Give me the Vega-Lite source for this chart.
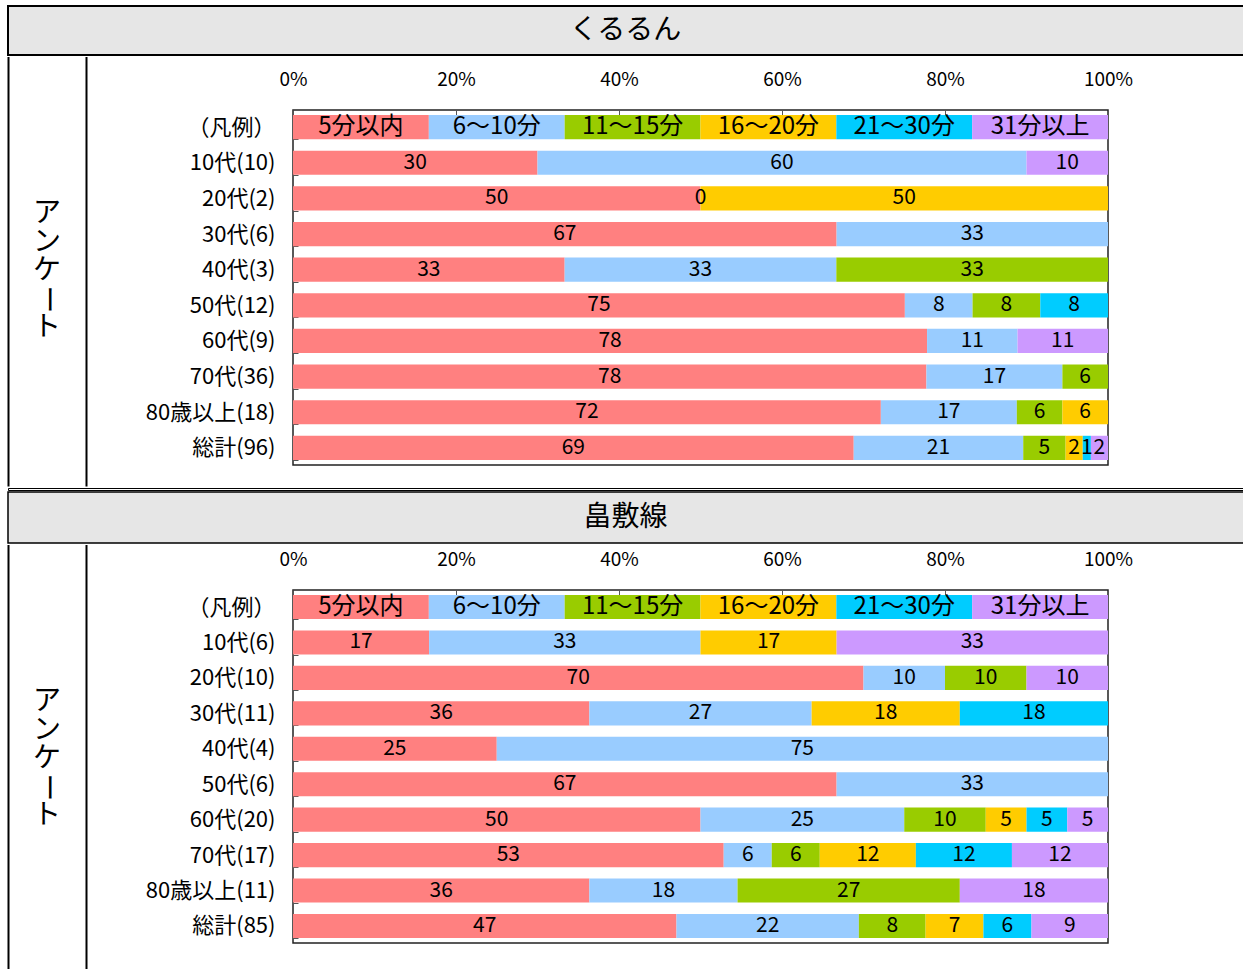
{
  "$schema": "https://vega.github.io/schema/vega-lite/v6.json",
  "padding": {"left": 6, "top": 5, "right": 0, "bottom": 0},
  "background": "white",
  "spacing": 0,
  "config": {
    "font": "Noto Sans CJK JP",
    "view": {"stroke": null},
    "concat": {"spacing": 0},
    "text": {"font": "Noto Sans CJK JP", "color": "black"},
    "axis": {"labelFont": "Noto Sans CJK JP", "labelColor": "black"}
  },
  "datasets": {
    "kururun": [
      {"row": "（凡例）", "cat": "5分以内", "k": 1, "v": 1},
      {"row": "（凡例）", "cat": "6～10分", "k": 2, "v": 1},
      {"row": "（凡例）", "cat": "11～15分", "k": 3, "v": 1},
      {"row": "（凡例）", "cat": "16～20分", "k": 4, "v": 1},
      {"row": "（凡例）", "cat": "21～30分", "k": 5, "v": 1},
      {"row": "（凡例）", "cat": "31分以上", "k": 6, "v": 1},
      {"row": "10代(10)", "cat": "5分以内", "k": 1, "v": 30},
      {"row": "10代(10)", "cat": "6～10分", "k": 2, "v": 60},
      {"row": "10代(10)", "cat": "31分以上", "k": 6, "v": 10},
      {"row": "20代(2)", "cat": "5分以内", "k": 1, "v": 50},
      {"row": "20代(2)", "cat": "6～10分", "k": 2, "v": 0},
      {"row": "20代(2)", "cat": "16～20分", "k": 4, "v": 50},
      {"row": "30代(6)", "cat": "5分以内", "k": 1, "v": 66.7},
      {"row": "30代(6)", "cat": "6～10分", "k": 2, "v": 33.3},
      {"row": "40代(3)", "cat": "5分以内", "k": 1, "v": 33.3},
      {"row": "40代(3)", "cat": "6～10分", "k": 2, "v": 33.3},
      {"row": "40代(3)", "cat": "11～15分", "k": 3, "v": 33.3},
      {"row": "50代(12)", "cat": "5分以内", "k": 1, "v": 75},
      {"row": "50代(12)", "cat": "6～10分", "k": 2, "v": 8.3},
      {"row": "50代(12)", "cat": "11～15分", "k": 3, "v": 8.3},
      {"row": "50代(12)", "cat": "21～30分", "k": 5, "v": 8.3},
      {"row": "60代(9)", "cat": "5分以内", "k": 1, "v": 77.8},
      {"row": "60代(9)", "cat": "6～10分", "k": 2, "v": 11.1},
      {"row": "60代(9)", "cat": "31分以上", "k": 6, "v": 11.1},
      {"row": "70代(36)", "cat": "5分以内", "k": 1, "v": 77.8},
      {"row": "70代(36)", "cat": "6～10分", "k": 2, "v": 16.7},
      {"row": "70代(36)", "cat": "11～15分", "k": 3, "v": 5.6},
      {"row": "80歳以上(18)", "cat": "5分以内", "k": 1, "v": 72.2},
      {"row": "80歳以上(18)", "cat": "6～10分", "k": 2, "v": 16.7},
      {"row": "80歳以上(18)", "cat": "11～15分", "k": 3, "v": 5.6},
      {"row": "80歳以上(18)", "cat": "16～20分", "k": 4, "v": 5.6},
      {"row": "総計(96)", "cat": "5分以内", "k": 1, "v": 68.8},
      {"row": "総計(96)", "cat": "6～10分", "k": 2, "v": 20.8},
      {"row": "総計(96)", "cat": "11～15分", "k": 3, "v": 5.2},
      {"row": "総計(96)", "cat": "16～20分", "k": 4, "v": 2.1},
      {"row": "総計(96)", "cat": "21～30分", "k": 5, "v": 1.0},
      {"row": "総計(96)", "cat": "31分以上", "k": 6, "v": 2.1}
    ],
    "hatashiki": [
      {"row": "（凡例）", "cat": "5分以内", "k": 1, "v": 1},
      {"row": "（凡例）", "cat": "6～10分", "k": 2, "v": 1},
      {"row": "（凡例）", "cat": "11～15分", "k": 3, "v": 1},
      {"row": "（凡例）", "cat": "16～20分", "k": 4, "v": 1},
      {"row": "（凡例）", "cat": "21～30分", "k": 5, "v": 1},
      {"row": "（凡例）", "cat": "31分以上", "k": 6, "v": 1},
      {"row": "10代(6)", "cat": "5分以内", "k": 1, "v": 16.7},
      {"row": "10代(6)", "cat": "6～10分", "k": 2, "v": 33.3},
      {"row": "10代(6)", "cat": "16～20分", "k": 4, "v": 16.7},
      {"row": "10代(6)", "cat": "31分以上", "k": 6, "v": 33.3},
      {"row": "20代(10)", "cat": "5分以内", "k": 1, "v": 70},
      {"row": "20代(10)", "cat": "6～10分", "k": 2, "v": 10},
      {"row": "20代(10)", "cat": "11～15分", "k": 3, "v": 10},
      {"row": "20代(10)", "cat": "31分以上", "k": 6, "v": 10},
      {"row": "30代(11)", "cat": "5分以内", "k": 1, "v": 36.4},
      {"row": "30代(11)", "cat": "6～10分", "k": 2, "v": 27.3},
      {"row": "30代(11)", "cat": "16～20分", "k": 4, "v": 18.2},
      {"row": "30代(11)", "cat": "21～30分", "k": 5, "v": 18.2},
      {"row": "40代(4)", "cat": "5分以内", "k": 1, "v": 25},
      {"row": "40代(4)", "cat": "6～10分", "k": 2, "v": 75},
      {"row": "50代(6)", "cat": "5分以内", "k": 1, "v": 66.7},
      {"row": "50代(6)", "cat": "6～10分", "k": 2, "v": 33.3},
      {"row": "60代(20)", "cat": "5分以内", "k": 1, "v": 50},
      {"row": "60代(20)", "cat": "6～10分", "k": 2, "v": 25},
      {"row": "60代(20)", "cat": "11～15分", "k": 3, "v": 10},
      {"row": "60代(20)", "cat": "16～20分", "k": 4, "v": 5},
      {"row": "60代(20)", "cat": "21～30分", "k": 5, "v": 5},
      {"row": "60代(20)", "cat": "31分以上", "k": 6, "v": 5},
      {"row": "70代(17)", "cat": "5分以内", "k": 1, "v": 52.9},
      {"row": "70代(17)", "cat": "6～10分", "k": 2, "v": 5.9},
      {"row": "70代(17)", "cat": "11～15分", "k": 3, "v": 5.9},
      {"row": "70代(17)", "cat": "16～20分", "k": 4, "v": 11.8},
      {"row": "70代(17)", "cat": "21～30分", "k": 5, "v": 11.8},
      {"row": "70代(17)", "cat": "31分以上", "k": 6, "v": 11.8},
      {"row": "80歳以上(11)", "cat": "5分以内", "k": 1, "v": 36.4},
      {"row": "80歳以上(11)", "cat": "6～10分", "k": 2, "v": 18.2},
      {"row": "80歳以上(11)", "cat": "11～15分", "k": 3, "v": 27.3},
      {"row": "80歳以上(11)", "cat": "31分以上", "k": 6, "v": 18.2},
      {"row": "総計(85)", "cat": "5分以内", "k": 1, "v": 47.1},
      {"row": "総計(85)", "cat": "6～10分", "k": 2, "v": 22.4},
      {"row": "総計(85)", "cat": "11～15分", "k": 3, "v": 8.2},
      {"row": "総計(85)", "cat": "16～20分", "k": 4, "v": 7.1},
      {"row": "総計(85)", "cat": "21～30分", "k": 5, "v": 5.9},
      {"row": "総計(85)", "cat": "31分以上", "k": 6, "v": 9.4}
    ]
  },
  "vconcat": [
    {
      "width": 1237, "height": 49,
      "view": {"fill": "#e6e6e6", "stroke": "black", "strokeWidth": 2},
      "data": {"values": [{"t": "くるるん"}]},
      "mark": {"type": "text", "fontSize": 28, "align": "center", "baseline": "middle", "dx": -1},
      "encoding": {"text": {"field": "t"}}
    },
    {
      "hconcat": [
        {
          "width": 78, "height": 375,
          "encoding": {
            "x": {"datum": 0.5, "type": "quantitative", "scale": {"domain": [0, 1]},
              "axis": {"orient": "bottom", "title": null, "values": [0, 1], "labels": false, "domain": false, "grid": false, "ticks": true, "tickSize": -427.5, "tickWidth": 2, "tickCap": "square", "tickColor": "black", "minExtent": 0, "maxExtent": 0}}
          },
          "layer": [
            {
              "data": {"values": [{"t": "ア\nン\nケ"}]},
              "mark": {"type": "text", "fontSize": 28, "lineBreak": "\n", "lineHeight": 28.5, "align": "center", "baseline": "middle", "dy": -83.5},
              "encoding": {"text": {"field": "t"}}
            },
            {
              "data": {"values": [{"t": "ー"}]},
              "mark": {"type": "text", "fontSize": 28, "angle": 90, "align": "center", "baseline": "middle", "dx": 2, "dy": 0},
              "encoding": {"text": {"field": "t"}}
            },
            {
              "data": {"values": [{"t": "ト"}]},
              "mark": {"type": "text", "fontSize": 28, "align": "center", "baseline": "middle", "dy": 30.5},
              "encoding": {"text": {"field": "t"}}
            }
          ]
        },
        {
          "width": 815, "height": 355,
          "view": {"stroke": "#222", "strokeWidth": 1.5},
          "data": {"name": "kururun"},
          "encoding": {
            "y": {
              "field": "row", "type": "nominal",
              "sort": ["（凡例）", "10代(10)", "20代(2)", "30代(6)", "40代(3)", "50代(12)", "60代(9)", "70代(36)", "80歳以上(18)", "総計(96)"],
              "scale": {"paddingInner": 0.32, "paddingOuter": 0.14},
              "axis": {"title": null, "domain": false, "tickBand": "extent", "tickSize": -5, "tickColor": "#555", "labelFontSize": 22, "labelPadding": 23, "minExtent": 204, "maxExtent": 204, "labelLimit": 300}
            }
          },
          "layer": [
            {
              "mark": {"type": "bar"},
              "encoding": {
                "x": {
                  "field": "v", "type": "quantitative", "stack": "normalize",
                  "scale": {"domain": [0, 1]},
                  "axis": {"orient": "top", "title": null, "domain": false, "grid": false, "values": [0, 0.2, 0.4, 0.6, 0.8, 1], "format": ".0%", "tickSize": -5, "tickColor": "#555", "labelFontSize": 19, "labelPadding": 26, "labelFlush": false, "minExtent": 53, "maxExtent": 53}
                },
                "color": {
                  "field": "cat", "type": "nominal", "legend": null,
                  "scale": {"domain": ["5分以内", "6～10分", "11～15分", "16～20分", "21～30分", "31分以上"], "range": ["#FF8080", "#99CCFF", "#99CC00", "#FFCC00", "#00CCFF", "#CC99FF"]}
                },
                "order": {"field": "k"}
              }
            },
            {
              "transform": [{"filter": "datum.row !== '（凡例）'"}],
              "mark": {"type": "text", "fontSize": 21, "align": "center", "baseline": "middle"},
              "encoding": {
                "x": {"field": "v", "type": "quantitative", "stack": "normalize", "bandPosition": 0.5},
                "detail": {"field": "cat"},
                "order": {"field": "k"},
                "text": {"field": "v", "format": ".0f"}
              }
            },
            {
              "transform": [{"filter": "datum.row === '（凡例）'"}],
              "mark": {"type": "text", "fontSize": 24, "align": "center", "baseline": "middle"},
              "encoding": {
                "x": {"field": "v", "type": "quantitative", "stack": "normalize", "bandPosition": 0.5},
                "detail": {"field": "cat"},
                "order": {"field": "k"},
                "text": {"field": "cat"}
              }
            }
          ]
        }
      ]
    },
    {
      "width": 1237, "height": 2,
      "view": {"stroke": "black", "strokeWidth": 1},
      "data": {"values": []},
      "mark": {"type": "text"},
      "encoding": {"text": {"field": "t"}}
    },
    {
      "width": 1237, "height": 51,
      "view": {"fill": "#e6e6e6", "stroke": "black", "strokeWidth": 1.5},
      "data": {"values": [{"t": "畠敷線"}]},
      "mark": {"type": "text", "fontSize": 28, "align": "center", "baseline": "middle", "dx": -1},
      "encoding": {"text": {"field": "t"}}
    },
    {
      "hconcat": [
        {
          "width": 78, "height": 381,
          "encoding": {
            "x": {"datum": 0.5, "type": "quantitative", "scale": {"domain": [0, 1]},
              "axis": {"orient": "bottom", "title": null, "values": [0, 1], "labels": false, "domain": false, "grid": false, "ticks": true, "tickSize": -425.5, "tickWidth": 2, "tickCap": "square", "tickColor": "black", "minExtent": 0, "maxExtent": 0}}
          },
          "layer": [
            {
              "data": {"values": [{"t": "ア\nン\nケ"}]},
              "mark": {"type": "text", "fontSize": 28, "lineBreak": "\n", "lineHeight": 28.5, "align": "center", "baseline": "middle", "dy": -78.5},
              "encoding": {"text": {"field": "t"}}
            },
            {
              "data": {"values": [{"t": "ー"}]},
              "mark": {"type": "text", "fontSize": 28, "angle": 90, "align": "center", "baseline": "middle", "dx": 7, "dy": 0},
              "encoding": {"text": {"field": "t"}}
            },
            {
              "data": {"values": [{"t": "ト"}]},
              "mark": {"type": "text", "fontSize": 28, "align": "center", "baseline": "middle", "dy": 35.5},
              "encoding": {"text": {"field": "t"}}
            }
          ]
        },
        {
          "width": 815, "height": 353,
          "view": {"stroke": "#222", "strokeWidth": 1.5},
          "data": {"name": "hatashiki"},
          "encoding": {
            "y": {
              "field": "row", "type": "nominal",
              "sort": ["（凡例）", "10代(6)", "20代(10)", "30代(11)", "40代(4)", "50代(6)", "60代(20)", "70代(17)", "80歳以上(11)", "総計(85)"],
              "scale": {"paddingInner": 0.32, "paddingOuter": 0.14},
              "axis": {"title": null, "domain": false, "tickBand": "extent", "tickSize": -5, "tickColor": "#555", "labelFontSize": 22, "labelPadding": 23, "minExtent": 204, "maxExtent": 204, "labelLimit": 300}
            }
          },
          "layer": [
            {
              "mark": {"type": "bar"},
              "encoding": {
                "x": {
                  "field": "v", "type": "quantitative", "stack": "normalize",
                  "scale": {"domain": [0, 1]},
                  "axis": {"orient": "top", "title": null, "domain": false, "grid": false, "values": [0, 0.2, 0.4, 0.6, 0.8, 1], "format": ".0%", "tickSize": -5, "tickColor": "#555", "labelFontSize": 19, "labelPadding": 26, "labelFlush": false, "minExtent": 45, "maxExtent": 45}
                },
                "color": {
                  "field": "cat", "type": "nominal", "legend": null,
                  "scale": {"domain": ["5分以内", "6～10分", "11～15分", "16～20分", "21～30分", "31分以上"], "range": ["#FF8080", "#99CCFF", "#99CC00", "#FFCC00", "#00CCFF", "#CC99FF"]}
                },
                "order": {"field": "k"}
              }
            },
            {
              "transform": [{"filter": "datum.row !== '（凡例）'"}],
              "mark": {"type": "text", "fontSize": 21, "align": "center", "baseline": "middle"},
              "encoding": {
                "x": {"field": "v", "type": "quantitative", "stack": "normalize", "bandPosition": 0.5},
                "detail": {"field": "cat"},
                "order": {"field": "k"},
                "text": {"field": "v", "format": ".0f"}
              }
            },
            {
              "transform": [{"filter": "datum.row === '（凡例）'"}],
              "mark": {"type": "text", "fontSize": 24, "align": "center", "baseline": "middle"},
              "encoding": {
                "x": {"field": "v", "type": "quantitative", "stack": "normalize", "bandPosition": 0.5},
                "detail": {"field": "cat"},
                "order": {"field": "k"},
                "text": {"field": "cat"}
              }
            }
          ]
        }
      ]
    }
  ]
}
